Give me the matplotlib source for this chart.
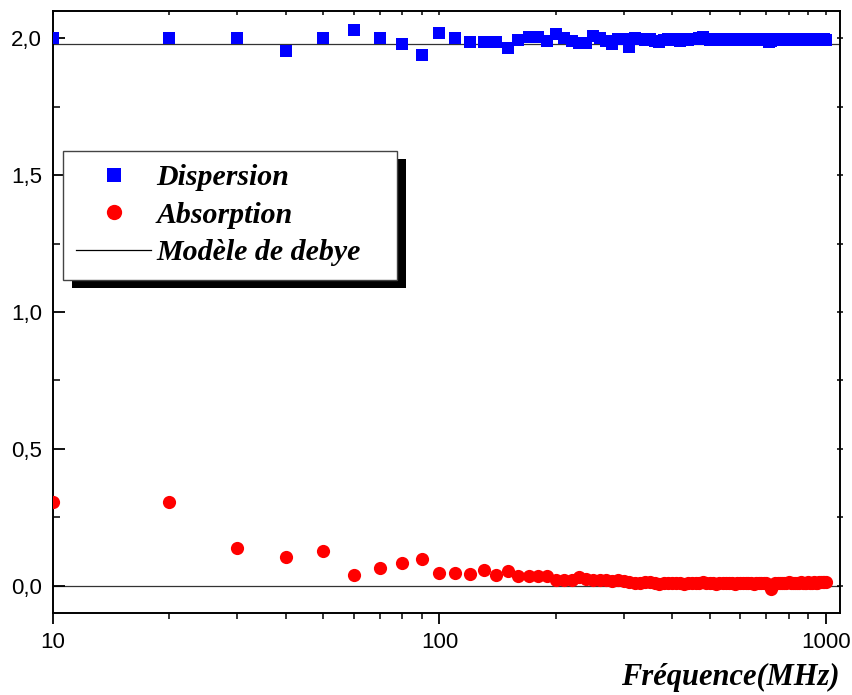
import matplotlib
matplotlib.use("Agg")
import matplotlib.pyplot as plt
import numpy as np
from matplotlib.patches import Rectangle
from matplotlib.ticker import FuncFormatter, MultipleLocator, LogLocator, NullFormatter

# measured frequencies (MHz)
freq = np.arange(10, 1010, 10)

dispersion = [
    2.000, 2.000, 2.000, 1.955, 2.000, 2.030, 2.000, 1.980, 1.940, 2.020,
    2.000, 1.985, 1.988, 1.988, 1.965, 1.995, 2.005, 2.005, 1.990, 2.015,
    2.000, 1.990, 1.982, 1.982, 2.008, 2.003, 1.990, 1.980, 1.998, 1.998,
    1.968, 2.000, 1.998, 1.995, 1.997, 1.992, 1.985, 1.995, 1.996, 1.998,
    1.994, 1.990, 1.996, 1.995, 1.997, 1.998, 2.003, 2.004, 1.998, 1.995,
    1.996, 1.993, 1.997, 1.995, 1.994, 1.996, 1.997, 1.995, 1.993, 1.996,
    1.998, 1.996, 1.994, 1.995, 1.997, 1.996, 1.993, 1.995, 1.996, 1.994,
    1.985, 1.990, 1.996, 1.995, 1.997, 1.994, 1.995, 1.996, 1.993, 1.995,
    1.996, 1.994, 1.995, 1.997, 1.996, 1.995, 1.994, 1.996, 1.995, 1.993,
    1.995, 1.996, 1.994, 1.995, 1.996, 1.995, 1.994, 1.995, 1.996, 1.995,
]

absorption = [
    0.304, 0.304, 0.137, 0.105, 0.127, 0.038, 0.063, 0.081, 0.097, 0.048,
    0.046, 0.043, 0.056, 0.039, 0.052, 0.036, 0.034, 0.034, 0.034, 0.022,
    0.022, 0.022, 0.030, 0.026, 0.020, 0.021, 0.019, 0.018, 0.020, 0.016,
    0.012, 0.010, 0.009, 0.015, 0.012, 0.010, 0.006, 0.008, 0.010, 0.010,
    0.008, 0.010, 0.007, 0.009, 0.011, 0.008, 0.010, 0.012, 0.009, 0.008,
    0.010, 0.007, 0.009, 0.011, 0.008, 0.010, 0.009, 0.007, 0.010, 0.011,
    0.009, 0.008, 0.010, 0.009, 0.007, 0.008, 0.010, 0.009, 0.011, 0.008,
    0.002, -0.012, 0.004, 0.008, 0.010, 0.009, 0.011, 0.008, 0.010, 0.012,
    0.009, 0.010, 0.011, 0.009, 0.010, 0.012, 0.011, 0.009, 0.010, 0.012,
    0.011, 0.010, 0.012, 0.011, 0.010, 0.012, 0.013, 0.012, 0.013, 0.014,
]

# Debye model levels
model_disp = 1.98
model_abs = 0.0

serif_bi = dict(family="Liberation Serif", weight="bold", style="italic")

fig = plt.figure(figsize=(8.53, 6.95), dpi=100)
ax = fig.add_axes([53 / 853, 82 / 695, 787 / 853, 602 / 695])

ax.axhline(model_disp, color="#333333", lw=0.9, zorder=1)
ax.axhline(model_abs, color="#333333", lw=0.9, zorder=1)
ax.plot(freq, dispersion, "s", color="#0000ff", ms=8.5, mew=0, zorder=3)
ax.plot(freq, absorption, "o", color="#ff0000", ms=9.5, mew=0, zorder=3)

ax.set_xscale("log")
ax.set_xlim(10, 1087)
ax.set_ylim(-0.1, 2.1)

# ticks
ax.xaxis.set_major_locator(LogLocator(base=10))
ax.xaxis.set_minor_locator(LogLocator(base=10, subs=np.arange(2, 10)))
ax.xaxis.set_major_formatter(FuncFormatter(lambda v, p: f"{v:g}"))
ax.xaxis.set_minor_formatter(NullFormatter())
ax.yaxis.set_major_locator(MultipleLocator(0.5))
ax.yaxis.set_minor_locator(MultipleLocator(0.25))
ax.yaxis.set_major_formatter(FuncFormatter(lambda v, p: f"{v:.1f}".replace(".", ",")))

ax.tick_params(axis="x", which="major", direction="out", length=8, width=1.3,
               pad=6, labelsize=16)
ax.tick_params(axis="x", which="minor", direction="out", length=4.5, width=1.1)
ax.tick_params(axis="y", which="major", direction="in", length=8.6, width=1.3,
               pad=8, labelsize=16)
ax.tick_params(axis="y", which="minor", direction="in", length=5, width=1.1)
for lab in ax.get_xticklabels() + ax.get_yticklabels():
    lab.set_family("Liberation Sans")

for s in ax.spines.values():
    s.set_linewidth(1.4)

# short ticks on the top and right edges
ax_top = ax.twiny()
ax_top.set_xscale("log")
ax_top.set_xlim(ax.get_xlim())
ax_top.xaxis.set_minor_locator(LogLocator(base=10, subs=np.arange(2, 10)))
ax_top.xaxis.set_major_formatter(NullFormatter())
ax_top.xaxis.set_minor_formatter(NullFormatter())
ax_top.tick_params(axis="x", which="both", direction="in", length=3, width=1.1)
ax_right = ax.twinx()
ax_right.set_ylim(ax.get_ylim())
ax_right.yaxis.set_major_locator(MultipleLocator(0.5))
ax_right.yaxis.set_minor_locator(MultipleLocator(0.25))
ax_right.yaxis.set_major_formatter(NullFormatter())
ax_right.tick_params(axis="y", which="both", direction="inout", length=5, width=1.1)
for a in (ax_top, ax_right):
    a.patch.set_visible(False)
    for s in a.spines.values():
        s.set_visible(False)

# legend
h1, = ax.plot([], [], "s", color="#0000ff", ms=10, mew=0)
h2, = ax.plot([], [], "o", color="#ff0000", ms=11, mew=0)
h3, = ax.plot([], [], "-", color="black", lw=0.9)
leg = ax.legend([h1, h2, h3], ["Dispersion", "Absorption", "Modèle de debye"],
                loc="upper left", mode="expand",
                bbox_to_anchor=(63 / 853, 1 - 151 / 695, 334 / 853, 0),
                bbox_transform=fig.transFigure, borderaxespad=0,
                prop=dict(size=21.5, **serif_bi), fancybox=False,
                edgecolor="#444444", framealpha=1, borderpad=0.45,
                handlelength=2.5, handletextpad=0.18, labelspacing=0.35)
leg.get_frame().set_linewidth(1.0)
leg.set_zorder(6)

fig.canvas.draw()
bb = leg.get_window_extent(fig.canvas.get_renderer())
bb_ax = bb.transformed(ax.transAxes.inverted())
dx, dy = 9 / 787, 8 / 602
ax.add_patch(Rectangle((bb_ax.x0 + dx, bb_ax.y0 - dy), bb_ax.width, bb_ax.height,
                       transform=ax.transAxes, facecolor="black",
                       edgecolor="none", zorder=5, clip_on=False))

fig.text(840 / 853, 10 / 695, "Fréquence(MHz)", ha="right", va="baseline",
         fontsize=22, **serif_bi)

fig.savefig("out.png", dpi=100)
